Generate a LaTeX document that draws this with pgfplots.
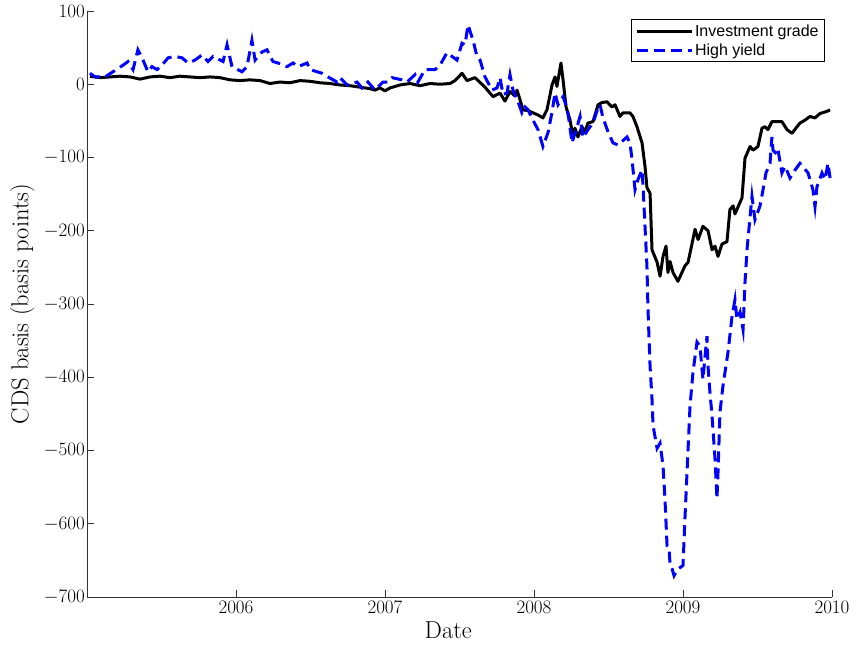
\documentclass[border=0pt]{standalone}
\usepackage{fix-cm}
\usepackage{fontspec}
\setsansfont{Liberation Sans}
\usepackage{pgfplots}
\pgfplotsset{compat=1.18}

% CDS basis, weekly, 2005--2009 (basis points)
\begin{document}
\begin{tikzpicture}
\begin{axis}[
  scale only axis,
  width=745pt, height=586pt,
  xmin=2005, xmax=2010,
  ymin=-700, ymax=100,
  xtick={2006,2007,2008,2009,2010},
  ytick={-700,-600,-500,-400,-300,-200,-100,0,100},
  /pgf/number format/1000 sep={},
  axis x line*=bottom,
  axis y line*=left,
  axis line style={line width=0.7pt, black!80},
  tick style={line width=0.7pt, black!80},
  tick align=inside,
  major tick length=7pt,
  ticklabel style={font=\fontsize{19}{22}\selectfont},
  yticklabel style={inner sep=2pt},
  xticklabel style={inner sep=4pt},
  xlabel={Date},
  ylabel={CDS basis (basis points)},
  label style={font=\fontsize{24.5}{29}\selectfont},
  xlabel style={at={(axis description cs:0.485,-0.056)}, anchor=center},
  ylabel style={at={(axis description cs:-0.087,0.5)}, anchor=center},
  legend style={at={(0.9906,0.986)}, anchor=north east,
    font=\sffamily\fontsize{16}{19}\selectfont,
    draw=black, line width=0.7pt, inner xsep=4pt, inner ysep=3pt,
    row sep=2pt},
  legend cell align=left,
  legend image code/.code={\draw[#1] (0pt,0pt) -- (55pt,0pt);},
  clip=false,
]
\coordinate (O) at (rel axis cs:0,0);

\addplot[black, line width=3pt, line join=round] coordinates {
(2005.020,11) (2005.087,9) (2005.154,10) (2005.221,11) (2005.289,10)
(2005.356,7) (2005.423,10) (2005.490,11) (2005.557,9) (2005.624,11)
(2005.691,10) (2005.758,9) (2005.826,10) (2005.893,9) (2005.960,6)
(2006.027,5) (2006.094,6) (2006.161,5) (2006.228,1) (2006.295,3)
(2006.362,2) (2006.430,5) (2006.497,4) (2006.564,2) (2006.631,1)
(2006.698,-1) (2006.765,-2) (2006.832,-4) (2006.899,-6) (2006.933,-8)
(2006.966,-5) (2007.000,-9) (2007.034,-5) (2007.101,-1) (2007.168,1)
(2007.235,-2) (2007.302,1) (2007.369,0) (2007.436,1) (2007.470,5)
(2007.517,15) (2007.550,5) (2007.604,9) (2007.671,-4) (2007.725,-17)
(2007.772,-12) (2007.805,-23) (2007.839,-10) (2007.872,-16) (2007.886,-8)
(2007.906,-21) (2007.926,-35) (2007.960,-36) (2007.993,-39) (2008.027,-42)
(2008.060,-46) (2008.087,-35) (2008.121,-1) (2008.141,10) (2008.154,-3)
(2008.181,29) (2008.195,6) (2008.215,-31) (2008.242,-49) (2008.262,-72)
(2008.275,-60) (2008.295,-72) (2008.322,-58) (2008.342,-65) (2008.362,-53)
(2008.396,-51) (2008.430,-28) (2008.456,-25) (2008.490,-24) (2008.523,-31)
(2008.544,-28) (2008.577,-44) (2008.597,-39) (2008.644,-39) (2008.664,-44)
(2008.691,-58) (2008.725,-80) (2008.745,-112) (2008.758,-141) (2008.779,-149)
(2008.792,-226) (2008.826,-243) (2008.846,-262) (2008.866,-235) (2008.886,-221)
(2008.899,-257) (2008.913,-242) (2008.933,-257) (2008.966,-269) (2009.013,-248)
(2009.034,-243) (2009.081,-198) (2009.101,-212) (2009.134,-194) (2009.168,-200)
(2009.195,-226) (2009.215,-221) (2009.235,-235) (2009.262,-218) (2009.295,-215)
(2009.315,-171) (2009.336,-166) (2009.349,-177) (2009.396,-155) (2009.416,-101)
(2009.450,-85) (2009.470,-90) (2009.503,-85) (2009.530,-60) (2009.550,-58)
(2009.570,-62) (2009.597,-51) (2009.631,-51) (2009.664,-51) (2009.698,-62)
(2009.732,-67) (2009.765,-58) (2009.785,-53) (2009.819,-49) (2009.852,-44)
(2009.886,-46) (2009.919,-40) (2009.966,-37) (2009.987,-35)
};
\addlegendentry{Investment grade}

\addplot[blue, line width=3pt, dash pattern=on 11pt off 6pt] coordinates {
(2005.020,15) (2005.054,10) (2005.121,10) (2005.174,17) (2005.242,26)
(2005.275,31) (2005.309,20) (2005.342,47) (2005.376,33) (2005.409,17)
(2005.436,24) (2005.470,20) (2005.503,26) (2005.544,36) (2005.591,38)
(2005.638,36) (2005.678,29) (2005.725,33) (2005.772,40) (2005.812,31)
(2005.846,38) (2005.913,31) (2005.940,54) (2005.973,24) (2006.040,17)
(2006.074,24) (2006.107,60) (2006.128,33) (2006.174,44) (2006.208,47)
(2006.248,31) (2006.282,29) (2006.342,24) (2006.383,29) (2006.416,24)
(2006.477,29) (2006.497,20) (2006.577,15) (2006.617,10) (2006.678,3)
(2006.698,9) (2006.745,-1) (2006.812,3) (2006.846,-5) (2006.886,3)
(2006.933,-8) (2006.966,-1) (2006.987,3) (2007.020,3) (2007.047,9)
(2007.114,6) (2007.148,3) (2007.201,13) (2007.221,3) (2007.268,20)
(2007.336,20) (2007.369,26) (2007.416,43) (2007.483,33) (2007.517,56)
(2007.537,54) (2007.557,81) (2007.591,60) (2007.617,38) (2007.638,33)
(2007.671,10) (2007.718,-8) (2007.752,-5) (2007.772,9) (2007.792,-14)
(2007.819,-12) (2007.839,13) (2007.859,-8) (2007.893,-24) (2007.919,-39)
(2007.940,-31) (2007.960,-35) (2007.993,-49) (2008.027,-62) (2008.060,-85)
(2008.094,-66) (2008.121,-38) (2008.141,-12) (2008.161,-28) (2008.195,-17)
(2008.221,-32) (2008.235,-49) (2008.255,-80) (2008.289,-58) (2008.309,-44)
(2008.329,-73) (2008.362,-62) (2008.396,-53) (2008.430,-32) (2008.443,-28)
(2008.463,-46) (2008.497,-65) (2008.530,-80) (2008.564,-83) (2008.624,-72)
(2008.644,-80) (2008.658,-103) (2008.678,-144) (2008.698,-130) (2008.725,-117)
(2008.732,-140) (2008.745,-194) (2008.758,-248) (2008.765,-307) (2008.779,-385)
(2008.792,-430) (2008.799,-466) (2008.826,-497) (2008.846,-490) (2008.866,-521)
(2008.879,-566) (2008.893,-630) (2008.906,-632) (2008.913,-655) (2008.926,-661)
(2008.940,-671) (2008.966,-662) (2009.000,-657) (2009.013,-593) (2009.034,-498)
(2009.047,-440) (2009.067,-393) (2009.094,-352) (2009.114,-358) (2009.134,-403)
(2009.148,-371) (2009.161,-344) (2009.168,-385) (2009.181,-421) (2009.195,-453)
(2009.215,-512) (2009.228,-566) (2009.235,-530) (2009.248,-448) (2009.268,-412)
(2009.302,-366) (2009.329,-317) (2009.349,-294) (2009.362,-321) (2009.383,-311)
(2009.403,-335) (2009.416,-271) (2009.430,-225) (2009.463,-153) (2009.483,-185)
(2009.517,-166) (2009.537,-144) (2009.557,-121) (2009.584,-108) (2009.597,-72)
(2009.604,-90) (2009.631,-96) (2009.638,-90) (2009.664,-121) (2009.685,-112)
(2009.718,-128) (2009.752,-117) (2009.785,-108) (2009.839,-121) (2009.872,-144)
(2009.886,-167) (2009.899,-140) (2009.933,-121) (2009.953,-130) (2009.973,-108)
(2009.987,-128)
};
\addlegendentry{High yield}
\end{axis}
\pgfresetboundingbox
\path (O) ++(-87pt,-48pt) rectangle ++(859pt,645pt);
\end{tikzpicture}
\end{document}
